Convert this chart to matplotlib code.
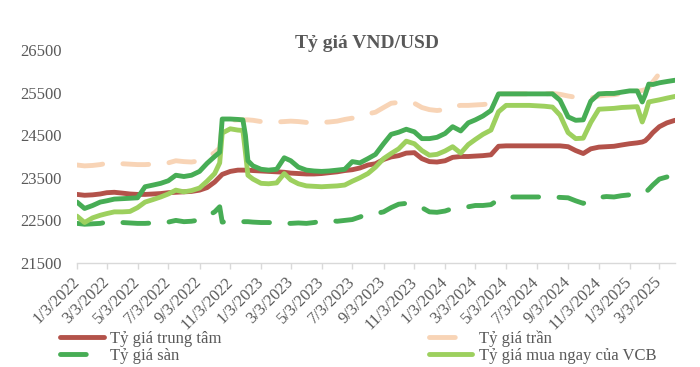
import matplotlib
matplotlib.use("Agg")
import matplotlib.pyplot as plt
import numpy as np
import pandas as pd
from matplotlib.lines import Line2D

dates = [
    "2022-01-03", "2022-01-18", "2022-02-03", "2022-02-18", "2022-03-03", "2022-03-18",
    "2022-04-03", "2022-04-18", "2022-05-03", "2022-05-18", "2022-06-03", "2022-06-18",
    "2022-07-03", "2022-07-18", "2022-08-03", "2022-08-18", "2022-09-03", "2022-09-18",
    "2022-10-03", "2022-10-13", "2022-10-18", "2022-11-03", "2022-11-18", "2022-11-28",
    "2022-12-03", "2022-12-08", "2022-12-18",
    "2023-01-03", "2023-01-18", "2023-02-03", "2023-02-18", "2023-03-03", "2023-03-18",
    "2023-04-03", "2023-04-18", "2023-05-03", "2023-05-18", "2023-06-03", "2023-06-18",
    "2023-07-03", "2023-07-18", "2023-08-03", "2023-08-18", "2023-09-03", "2023-09-18",
    "2023-10-03", "2023-10-18", "2023-11-03", "2023-11-18", "2023-12-03", "2023-12-18",
    "2024-01-03", "2024-01-18", "2024-02-03", "2024-02-18", "2024-03-03", "2024-03-18",
    "2024-04-03", "2024-04-18", "2024-05-03", "2024-05-18", "2024-06-03", "2024-06-18",
    "2024-07-03", "2024-07-18", "2024-08-03", "2024-08-18", "2024-09-03", "2024-09-18",
    "2024-10-03", "2024-10-18", "2024-11-03", "2024-11-18", "2024-12-03", "2024-12-18",
    "2025-01-03", "2025-01-18", "2025-01-28", "2025-02-03", "2025-02-10", "2025-02-18",
    "2025-03-03", "2025-03-18", "2025-04-03",
]

central = [
    23110, 23090, 23100, 23120, 23150, 23160, 23140, 23120, 23110, 23110, 23120, 23130,
    23150, 23160, 23170, 23180, 23210, 23270, 23400, 23520, 23580, 23650, 23680, 23680,
    23680, 23680, 23670,
    23660, 23650, 23640, 23630, 23610, 23600, 23590, 23590, 23600, 23620, 23640, 23670,
    23690, 23730, 23800, 23830, 23930, 23990, 24020, 24080, 24090, 23950, 23880, 23870,
    23900, 23980, 24000, 24000, 24010, 24020, 24040, 24240, 24250, 24250, 24250, 24250,
    24250, 24250, 24250, 24250, 24230, 24140, 24070, 24180, 24220, 24230, 24240, 24270,
    24300, 24320, 24340, 24370, 24450, 24560, 24700, 24790, 24850,
]

ceiling = [
    23800, 23780, 23790, 23810, 23840, 23850, 23830, 23820, 23810, 23810, 23820, 23830,
    23850, 23900, 23880, 23870, 23900, 23980, 24090, 24200, 24760, 24850, 24860, 24860,
    24860, 24860, 24850,
    24820, 24820, 24810, 24820, 24830, 24820, 24800, 24790, 24800, 24810, 24830, 24870,
    24900, 24950, 25000, 25040, 25150, 25250, 25270, 25280, 25250, 25150, 25100, 25080,
    25100, 25180, 25200, 25200, 25210, 25220, 25240, 25470, 25470, 25470, 25470, 25470,
    25470, 25470, 25480, 25460, 25420, 25390, 25370, 25370, 25420, 25440, 25450, 25480,
    25510, 25530, 25550, 25570, 25620, 25750, 25950, 26020, 26070,
]

floor = [
    22430, 22410, 22420, 22430, 22460, 22470, 22450, 22440, 22430, 22430, 22440, 22450,
    22460, 22500, 22470, 22480, 22510, 22600, 22700, 22820, 22460, 22480, 22480, 22470,
    22470, 22470, 22460,
    22450, 22450, 22440, 22430, 22430, 22440, 22430, 22450, 22480, 22500, 22480, 22500,
    22520, 22580, 22650, 22660, 22700, 22800, 22880, 22900, 22880, 22800, 22700, 22690,
    22720, 22780, 22800, 22820, 22850, 22850, 22870, 22990, 23040, 23050, 23050, 23050,
    23050, 23050, 23050, 23040, 23030, 22960, 22900, 22980, 23040, 23060, 23050, 23080,
    23100, 23110, 23120, 23150, 23230, 23330, 23470, 23520, np.nan,
]

vcb_sell = [
    22930, 22780, 22850, 22930, 22960, 23000, 23010, 23020, 23030, 23290, 23330, 23370,
    23430, 23560, 23530, 23560, 23650, 23840, 24000, 24100, 24880, 24880, 24870, 24860,
    24500, 23900, 23780,
    23700, 23680, 23700, 23970, 23900, 23750, 23680, 23660, 23650, 23660, 23680, 23700,
    23880, 23850, 23950, 24050, 24300, 24520, 24570, 24640, 24580, 24420, 24420, 24450,
    24540, 24700, 24600, 24790, 24860, 24950, 25080, 25470, 25470, 25470, 25470, 25470,
    25470, 25470, 25470, 25320, 24930, 24850, 24860, 25300, 25470, 25480, 25480, 25510,
    25540, 25540, 25280, 25450, 25700, 25690, 25730, 25760, 25790,
]

vcb_buy = [
    22600, 22450, 22560, 22620, 22660, 22700, 22700, 22710, 22800, 22930, 22990, 23050,
    23120, 23210, 23170, 23200, 23260, 23420, 23600, 23850, 24550, 24650, 24620, 24610,
    24100, 23560, 23470,
    23370, 23360, 23380, 23600, 23450, 23360, 23310, 23300, 23290, 23300, 23310, 23330,
    23420, 23500, 23600, 23750, 23950, 24070, 24180, 24360, 24300, 24140, 24030, 24050,
    24130, 24230, 24080, 24280, 24400, 24520, 24620, 25050, 25200, 25200, 25200, 25200,
    25190, 25180, 25160, 24970, 24560, 24420, 24430, 24800, 25110, 25120, 25130, 25150,
    25160, 25170, 24810, 25000, 25280, 25300, 25330, 25370, 25410,
]

tick_dates = [
    "2022-01-03", "2022-03-03", "2022-05-03", "2022-07-03", "2022-09-03", "2022-11-03",
    "2023-01-03", "2023-03-03", "2023-05-03", "2023-07-03", "2023-09-03", "2023-11-03",
    "2024-01-03", "2024-03-03", "2024-05-03", "2024-07-03", "2024-09-03", "2024-11-03",
    "2025-01-03", "2025-03-03",
]
tick_labels = [
    "1/3/2022", "3/3/2022", "5/3/2022", "7/3/2022", "9/3/2022", "11/3/2022",
    "1/3/2023", "3/3/2023", "5/3/2023", "7/3/2023", "9/3/2023", "11/3/2023",
    "1/3/2024", "3/3/2024", "5/3/2024", "7/3/2024", "9/3/2024", "11/3/2024",
    "1/3/2025", "3/3/2025",
]
y_ticks = [21500, 22500, 23500, 24500, 25500, 26500]

labels = ["Tỷ giá trung tâm", "Tỷ giá trần", "Tỷ giá sàn", "Tỷ giá mua ngay của VCB"]

plt.rcParams["font.family"] = ["Liberation Serif", "DejaVu Serif"]

C_RED = "#B3524A"
C_PEACH = "#F8D4B6"
C_DGREEN = "#47AD55"
C_LGREEN = "#9DD05E"
GRAY = "#595959"

x = pd.to_datetime(dates)

fig = plt.figure(figsize=(7.0, 3.67), dpi=100)
ax = fig.add_axes([77 / 700, 1 - 263 / 367, (675 - 77) / 700, (263 - 50) / 367])

lw = 3.5
dash = (0, (5.3, 4.2))
ax.plot(x, ceiling, color=C_PEACH, lw=lw, linestyle=dash, dash_capstyle="round", zorder=2)
ax.plot(x, central, color=C_RED, lw=lw, solid_capstyle="round", zorder=3)
ax.plot(x, floor, color=C_DGREEN, lw=lw, linestyle=dash, dash_capstyle="round", zorder=3)
ax.plot(x, vcb_buy, color=C_LGREEN, lw=lw, solid_capstyle="round", zorder=4)
ax.plot(x, vcb_sell, color=C_DGREEN, lw=lw, solid_capstyle="round", zorder=5)

ax.set_ylim(21500, 26500)
ax.set_xlim(pd.Timestamp("2022-01-03"), pd.Timestamp("2025-04-03"))
ax.set_yticks(y_ticks)
ax.set_yticklabels([str(v) for v in y_ticks])
ax.set_xticks(pd.to_datetime(tick_dates))
ax.set_xticklabels(tick_labels, rotation=45, ha="right", va="center", rotation_mode="anchor")

for s in ["top", "right", "left"]:
    ax.spines[s].set_visible(False)
ax.spines["bottom"].set_color("#D9D9D9")
ax.spines["bottom"].set_linewidth(1.0)
ax.tick_params(axis="y", length=0, pad=11, labelsize=12, labelcolor=GRAY)
ax.tick_params(axis="x", length=4, width=1.0, color="#D9D9D9", pad=8, labelsize=12, labelcolor=GRAY)

fig.text(367 / 700, 1 - 43 / 367, "Tỷ giá VND/USD", ha="center", va="center",
         fontsize=14, fontweight="bold", color=GRAY)

handles = [
    Line2D([], [], color=C_RED, lw=lw, solid_capstyle="round"),
    Line2D([], [], color=C_DGREEN, lw=lw, linestyle=dash, dash_capstyle="round"),
    Line2D([], [], color=C_PEACH, lw=lw, linestyle=dash, dash_capstyle="round"),
    Line2D([], [], color=C_LGREEN, lw=lw, solid_capstyle="round"),
]
hl = [labels[0], labels[2], labels[1], labels[3]]
leg = fig.legend(handles, hl, ncol=2, loc="upper left", bbox_to_anchor=(52 / 700, 1 - 322 / 367),
                 frameon=False, fontsize=12, handlelength=2.6, handletextpad=0.4,
                 columnspacing=12.4, labelspacing=0.05, borderpad=0.0)
for t in leg.get_texts():
    t.set_color(GRAY)

fig.savefig("out.png", dpi=100)
